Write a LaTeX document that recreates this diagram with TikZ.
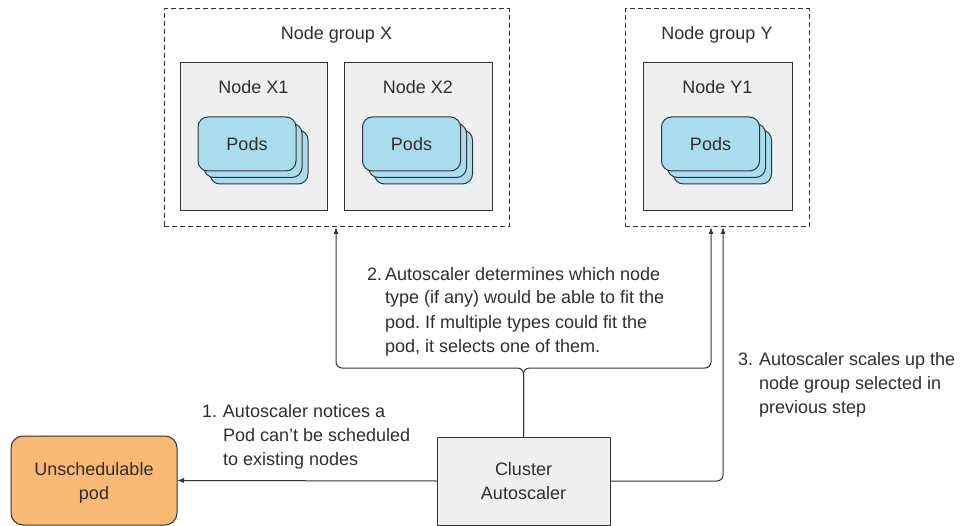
\documentclass[tikz,border=0pt]{standalone}
\usepackage{fontspec}
\setmainfont{Liberation Sans}
\usetikzlibrary{arrows.meta}
\definecolor{ink}{HTML}{2E2E2E}
\definecolor{linecol}{HTML}{333333}
\definecolor{boxgray}{HTML}{EEEFF1}
\definecolor{podblue}{HTML}{A9DDEE}
\definecolor{podorange}{HTML}{F9B874}
\frenchspacing
\begin{document}
\begin{tikzpicture}[x=1pt,y=-1pt,
  every node/.style={font=\fontsize{18}{24}\selectfont, text=ink, inner sep=0pt, outer sep=0pt},
  groupbox/.style={draw=linecol, dash pattern=on 5pt off 3pt, line width=1pt},
  nodebox/.style={draw=linecol, fill=boxgray, line width=1pt},
  podcard/.style={draw=linecol, fill=podblue, rounded corners=10pt, line width=1pt, minimum width=98pt, minimum height=54pt},
  arr/.style={draw=linecol, line width=1pt, -{Latex[length=7pt,width=5pt]}, rounded corners=6pt},
  note/.style={anchor=base west},
]
\useasboundingbox (0,0) rectangle (968,526);

% node groups
\node[groupbox, minimum width=345pt, minimum height=218pt] (gx) at (336.5,118) {};
\node[groupbox, minimum width=184pt, minimum height=218pt] (gy) at (717,118) {};
\node[anchor=base] (gxt) at (336.5,40) {Node group X};
\node[anchor=base] (gyt) at (717,40) {Node group Y};

% nodes
\node[nodebox, minimum width=147pt, minimum height=148pt] (x1) at (253.5,137) {};
\node[nodebox, minimum width=148pt, minimum height=148pt] (x2) at (418,137) {};
\node[nodebox, minimum width=149pt, minimum height=148pt] (y1) at (717.5,137) {};
\node[anchor=base] (x1t) at (253.5,94) {Node X1};
\node[anchor=base] (x2t) at (418,94) {Node X2};
\node[anchor=base] (y1t) at (717.5,94) {Node Y1};

% pod stacks
\foreach \n/\cx in {x1/247, x2/411.5, y1/710.5} {
  \node[podcard] (\n p3) at (\cx+12,157) {};
  \node[podcard] (\n p2) at (\cx+6,150.5) {};
  \node[podcard] (\n p1) at (\cx,144) {Pods};
}

% bottom boxes
\node[draw=linecol, fill=podorange, line width=1pt, rounded corners=12pt,
      minimum width=166pt, minimum height=89pt, align=center, text depth=0pt]
      (unsched) at (94,480.5) {Unschedulable\\pod};
\node[nodebox, minimum width=173pt, minimum height=88pt, align=center, text depth=0pt]
      (ca) at (523.5,481) {Cluster\\Autoscaler};

% connectors
\coordinate (lx) at (336,368);
\coordinate (rx) at (711,368);
\coordinate (r3) at (723,0);
\draw[arr] (ca.west) -- (unsched.east);
\draw[arr] (ca.north) |- (lx) -- (lx |- gx.south);
\draw[arr] (ca.north) |- (rx) -- (rx |- gy.south);
\draw[arr] (ca.east) -| (r3 |- gy.south);

% notes
\node[note] (t1) at (202,417) {\makebox[21pt][l]{1.}\begin{tabular}[t]{@{}l@{}}Autoscaler notices a\\Pod can’t be scheduled\\to existing nodes\end{tabular}};
\node[note] (t2) at (367,280) {\makebox[18pt][l]{2.}\begin{tabular}[t]{@{}l@{}}Autoscaler determines which node\\type (if any) would be able to fit the\\pod. If multiple types could fit the\\pod, it selects one of them.\end{tabular}};
\node[note] (t3) at (738,365) {\makebox[21pt][l]{3.}\begin{tabular}[t]{@{}l@{}}Autoscaler scales up the\\node group selected in\\previous step\end{tabular}};
\end{tikzpicture}
\end{document}
